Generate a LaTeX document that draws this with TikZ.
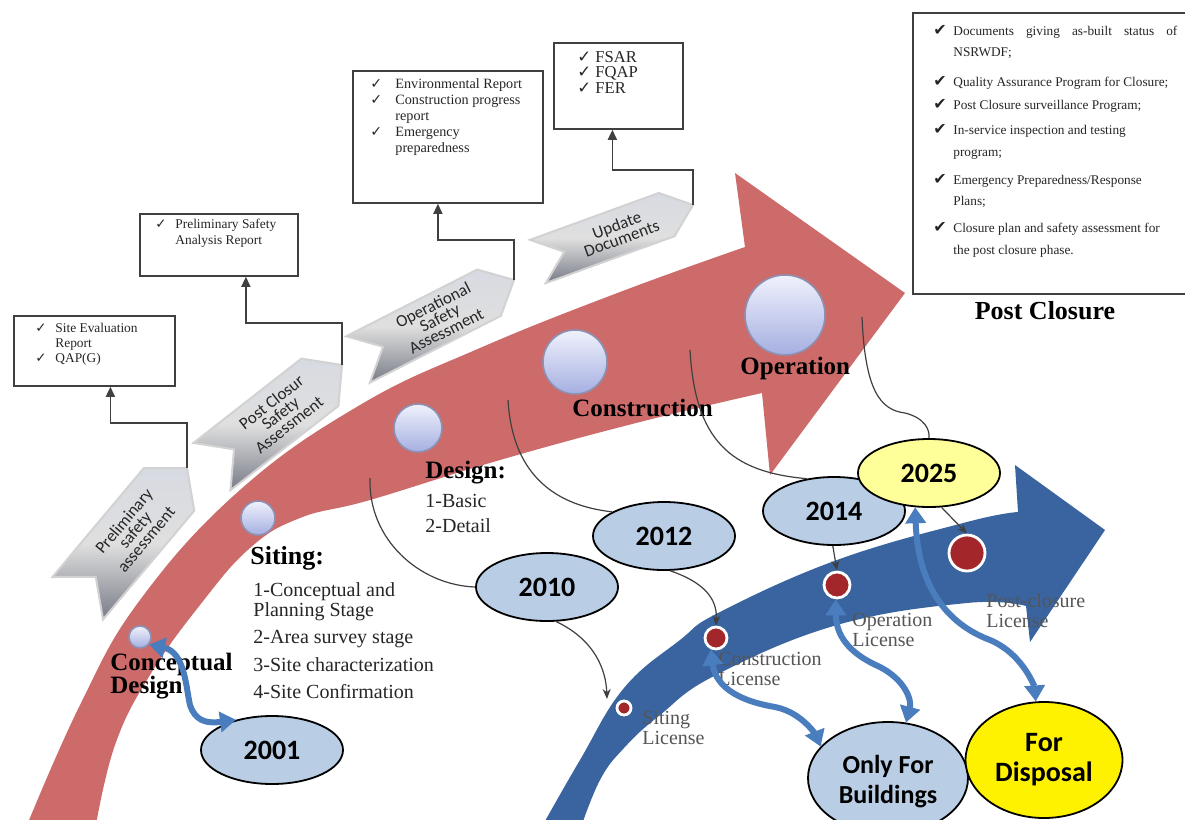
\documentclass[tikz,border=0pt]{standalone}
\usepackage{fontspec}
\setmainfont{Liberation Serif}
\newfontfamily\carl{Carlito}
\newfontfamily\djv{DejaVu Sans}
\usetikzlibrary{shapes.geometric,arrows.meta}
\definecolor{redarr}{HTML}{CD6B6B}
\definecolor{bluearr}{HTML}{3A64A0}
\definecolor{thickblue}{HTML}{4A7DBD}
\definecolor{yearblue}{HTML}{B9CDE5}
\definecolor{paleyellow}{HTML}{FFFF99}
\definecolor{dotred}{HTML}{A3272A}
\definecolor{lblgray}{HTML}{555555}
\definecolor{sphtop}{RGB}{240,242,252}
\definecolor{sphbot}{RGB}{165,175,225}
\definecolor{sphrim}{RGB}{140,145,180}
\definecolor{chevtop}{RGB}{215,218,225}
\definecolor{chevbot}{RGB}{120,124,135}
\newcommand{\ck}{\makebox[10pt][l]{{\djv ✓}}}
\newcommand{\hck}{\makebox[10pt][l]{{\djv\fontsize{8}{8}\selectfont ✔}}}
\newcommand{\chevron}[7]{%
  \begin{scope}[shift={(#2,#3)},rotate=#4]
    \path[chev] (0,0) -- (-28,-#6) -- (-#5,-#6) -- ({-#5+28},0) -- (-#5,#6) -- (-28,#6) -- cycle;
    \coordinate (#1) at (0,0);
    \node[chevtext,rotate=#4] (#1t) at ({-#5/2+4},0) {#7};
  \end{scope}}
\tikzset{
  chev/.style={top color=chevtop, bottom color=chevbot, middle color=gray!25, draw=gray!35, line width=1pt},
  chevtext/.style={align=center, inner sep=0pt, text=black!85, font=\carl\fontsize{8.5}{7.2}\selectfont},
  box/.style={draw=black!75, line width=0.9pt, fill=white, inner sep=0pt, anchor=north west},
  boxtxt/.style={anchor=base west, inner sep=0pt, text=black!85},
  conn/.style={draw=black!75, line width=0.8pt, -{Triangle[length=5pt,width=4.5pt]}},
  lab/.style={anchor=north west, inner sep=0pt, align=left},
  bl/.style={lab, text=lblgray, font=\fontsize{10}{10}\selectfont},
  sphere/.style={circle, inner sep=0pt, top color=sphtop, bottom color=sphbot, draw=sphrim, line width=0.8pt},
  rdot/.style={circle, inner sep=0pt, fill=dotred, draw=white, line width=1.4pt},
  year/.style={ellipse, draw=black, line width=0.9pt, fill=yearblue, inner sep=0pt,
    minimum width=71pt, minimum height=34pt, font=\carl\bfseries\fontsize{14}{16}\selectfont},
  wire/.style={draw=black!75, line width=0.6pt},
  wirearr/.style={wire, -{Stealth[length=5pt,width=4pt]}},
  dbl/.style={draw=thickblue, line width=3pt, {Triangle[width=10pt,length=8pt]}-{Triangle[width=10pt,length=8pt]}}
}
\begin{document}
\begin{tikzpicture}[x=0.5pt,y=-0.5pt]
\useasboundingbox (0,0) rectangle (1185,820);
\clip (0,0) rectangle (1185,820);
\fill[white] (0,0) rectangle (1185,820);

% big red arrow
\fill[redarr] plot[smooth,tension=0.7] coordinates {(25,830) (80,705) (140,600) (240,490) (360,405) (480,348) (620,292) (745,247)}
  -- (735,173) -- (905,293) -- (770,475) -- (762,393)
  -- plot[smooth,tension=0.7] coordinates {(762,393) (640,422) (500,460) (370,500) (300,518) (250,548) (200,605) (150,675) (115,745) (95,830)} -- cycle;

% chevrons
\chevron{ch1}{187}{468}{50}{170}{33}{Preliminary\\safety\\assessment}
\chevron{ch2}{342}{365}{38}{165}{30}{Post Closur\\Safety\\Assessment}
\chevron{ch3}{514}{280}{27}{175}{26}{Operational\\Safety\\Assessment}
\chevron{ch4}{693}{205}{20}{165}{23}{Update\\Documents}

% document boxes
\node[box, minimum width=80.5pt, minimum height=35pt] (b1) at (13,315) {};
\node[box, minimum width=79pt, minimum height=31pt] (b2) at (139,213) {};
\node[box, minimum width=95pt, minimum height=66pt] (b3) at (352,70) {};
\node[box, minimum width=64.5pt, minimum height=43pt] (b4) at (553,42) {};
\node[box, minimum width=145pt, minimum height=140.5pt] (b5) at (912,12) {};

\node[boxtxt, font=\fontsize{6.7}{7.5}\selectfont] (b1t) at (35,332)
  {\begin{tabular}[t]{@{}l@{}l@{}}\ck & Site Evaluation\\ & Report\\ \ck & QAP(G)\end{tabular}};
\node[boxtxt, font=\fontsize{6.7}{8.3}\selectfont] (b2t) at (155,228)
  {\begin{tabular}[t]{@{}l@{}l@{}}\ck & Preliminary Safety\\ & Analysis Report\end{tabular}};
\node[boxtxt, font=\fontsize{7.1}{8}\selectfont] (b3t) at (370,88)
  {\begin{tabular}[t]{@{}l@{}l@{}}\makebox[12.5pt][l]{{\djv ✓}} & Environmental Report\\ \makebox[12.5pt][l]{{\djv ✓}} & Construction progress\\ & report\\ \makebox[12.5pt][l]{{\djv ✓}} & Emergency\\ & preparedness\end{tabular}};
\node[boxtxt, font=\fontsize{8.3}{7.8}\selectfont] (b4t) at (577,62)
  {\begin{tabular}[t]{@{}l@{}l@{}}\makebox[9pt][l]{{\djv ✓}} & FSAR\\ \makebox[9pt][l]{{\djv ✓}} & FQAP\\ \makebox[9pt][l]{{\djv ✓}} & FER\end{tabular}};
\node[boxtxt, font=\fontsize{6.65}{10.5}\selectfont] (b5t) at (933,35)
  {\begin{tabular}[t]{@{}l@{}l@{}}
   \hck & \makebox[112pt][s]{Documents giving as-built status of}\\
        & NSRWDF;\\[4.5pt]
   \hck & Quality Assurance Program for Closure;\\[1pt]
   \hck & Post Closure surveillance Program;\\[2pt]
   \hck & In-service inspection and testing\\[0.5pt]
        & program;\\[3.5pt]
   \hck & Emergency Preparedness/Response\\
        & Plans;\\[3pt]
   \hck & Closure plan and safety assessment for\\[0.5pt]
        & the post closure phase.
  \end{tabular}};
\node[inner sep=0pt, font=\bfseries\fontsize{13}{15}\selectfont] (pc) at (1045,311) {Post Closure};

% box connectors
\draw[conn] (ch1) -- ++(0,-45) -| ([xshift=8pt]b1.south);
\draw[conn] (ch2) -- ++(0,-42) -| ([xshift=13.5pt]b2.south);
\draw[conn] (ch3) -- ++(0,-40) -| ([xshift=-5pt]b3.south);
\draw[conn] (ch4) -- ++(0,-35) -| ([xshift=-3pt]b4.south);

% spheres
\node[sphere, minimum size=11pt] (s1) at (140,637) {};
\node[sphere, minimum size=17pt] (s2) at (258,518) {};
\node[sphere, minimum size=24pt] (s3) at (418,428) {};
\node[sphere, minimum size=32pt] (s4) at (575,362) {};
\node[sphere, minimum size=40pt] (s5) at (785,315) {};

% labels on red arrow
\node[lab, font=\bfseries\fontsize{12.5}{11.5}\selectfont] (lcd) at (110,653) {Conceptual\\Design};
\node[lab, font=\bfseries\fontsize{13}{14}\selectfont] (lsit) at (250,546) {Siting:};
\node[lab, text=black!85, font=\fontsize{10}{9}\selectfont] (lsiti) at (253,582)
  {1-Conceptual and\\Planning Stage\\[4.5pt]2-Area survey stage\\[4pt]3-Site characterization\\[4.5pt]4-Site Confirmation};
\node[lab, font=\bfseries\fontsize{12.5}{14}\selectfont] (ldes) at (425,461) {Design:};
\node[lab, text=black!85, font=\fontsize{10}{12.5}\selectfont] (ldesi) at (425,494) {1-Basic\\2-Detail};
\node[lab, font=\bfseries\fontsize{12.5}{14}\selectfont] (lcon) at (572,399) {Construction};
\node[lab, font=\bfseries\fontsize{12.5}{14}\selectfont] (lop) at (740,357) {Operation};

% free ends of the thin curves on the red arrow
\coordinate (r1) at (370,478);
\coordinate (r2) at (508,400);
\coordinate (r3) at (690,350);
\coordinate (r4) at (862,317);

% blue arrow
\fill[bluearr] plot[smooth,tension=0.7] coordinates {(540,830) (580,760) (624,688) (680,640) (720,612) (837,560) (967,522) (1018,512)}
  -- (1015,465) -- (1105,530) -- (1030,642) -- (1026,606)
  -- plot[smooth,tension=0.7] coordinates {(1026,606) (967,603) (837,625) (716,675) (660,715) (624,748) (600,780) (580,830)} -- cycle;

% labels on blue arrow
\node[bl] (lsl) at (642,711) {Siting\\License};
\node[bl] (lcl) at (718,652) {Construction\\License};
\node[bl] (lol) at (852,613) {Operation\\License};
\node[bl] (lpl) at (986,593) {Post-closure\\License};

% licence dots
\node[rdot, minimum size=7pt] (d1) at (624,708) {};
\node[rdot, minimum size=11pt] (d2) at (716,638) {};
\node[rdot, minimum size=13pt] (d3) at (837,585) {};
\node[rdot, minimum size=18pt] (d4) at (967,553) {};

% year ellipses
\node[year] (e2001) at (272,750) {2001};
\node[year] (e2010) at (547,587) {2010};
\node[year] (e2012) at (664,536) {2012};
\node[year] (e2014) at (834,511) {2014};
\node[year, fill=paleyellow] (e2025) at (929,473) {2025};
\node[ellipse, draw=black, line width=0.9pt, fill=yearblue, minimum width=80pt, minimum height=56pt] (ofb) at (888,778) {};
\node[inner sep=0pt, align=center, font=\carl\bfseries\fontsize{13}{15}\selectfont] (ofbt) at (888,782) {Only For\\Buildings};
\node[ellipse, draw=black, line width=0.9pt, fill=yellow, minimum width=67pt, minimum height=58pt,
      align=center, font=\carl\bfseries\fontsize{14}{15}\selectfont] (fd) at (1044,760) {For\\Disposal};

% thin curves
\draw[wire] (r1) .. controls (368,540) and (420,585) .. (e2010.west);
\draw[wire] (r2) .. controls (512,470) and (550,505) .. (e2012.155);
\draw[wire] (r3) .. controls (695,440) and (730,472) .. (e2014.130);
\draw[wire] (r4) .. controls (865,390) and (880,410) .. (905,413) .. controls (925,418) and (930,430) .. (e2025.north);
\coordinate (a1) at (607,699);
\draw[wirearr] (e2010.-75) .. controls (595,640) and (606,670) .. (a1);
\draw[wirearr] (e2012.-80) .. controls (712,585) and (717,605) .. (d2.north);
\draw[wirearr] (e2014.-92) -- (d3.north);
\draw[wirearr] (e2025.-70) -- (d4.north);

% thick double arrows
\draw[dbl] (s1.-40) .. controls (185,652) and (186,688) .. (190,705) .. controls (195,720) and (205,724) .. (e2001.140);
\draw[dbl] (d2.-115) .. controls (716,690) and (745,702) .. (775,707) .. controls (805,713) and (818,740) .. (ofb.155);
\draw[dbl] (d3.-95) .. controls (836,640) and (855,656) .. (880,667) .. controls (905,680) and (912,700) .. (ofb.72);
\draw[dbl] (e2025.-112) .. controls (918,590) and (950,625) .. (990,640) .. controls (1025,655) and (1035,690) .. (fd.98);
\end{tikzpicture}
\end{document}
